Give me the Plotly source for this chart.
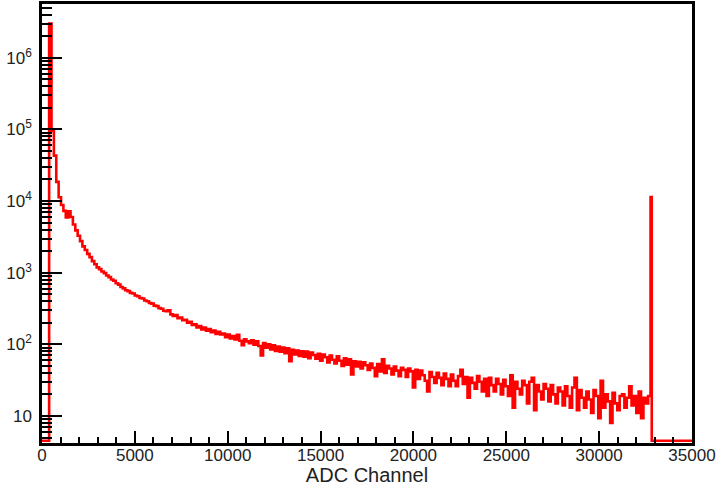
import plotly.graph_objects as go

# ---- data -------------------------------------------------------------
bin_width = 128          # ADC channels per bin
n_bins = 256             # 0 .. 32768
counts = [
    0, 0, 0, 3000000, 95000, 43000, 18500, 11300, 8800, 7300,
    5900, 7200, 6000, 4700, 3900, 3270, 2760, 2330, 2070, 1830,
    1650, 1450, 1310, 1185, 1120, 1040, 985, 912, 866, 805,
    770, 712, 682, 630, 604, 570, 553, 522, 512, 481,
    470, 444, 436, 410, 400, 378, 370, 347, 341, 320,
    314, 294, 290, 298, 262, 250, 256, 232, 236, 218,
    220, 200, 206, 186, 191, 172, 180, 162, 171, 155,
    163, 148, 156, 140, 150, 137, 141, 126, 137, 121,
    131, 117, 136, 112, 97, 118, 110, 104, 114, 99,
    110, 95, 70, 104, 90, 100, 85, 97, 81, 93,
    79, 90, 75, 88, 58, 84, 72, 82, 69, 80,
    67, 79, 64, 77, 71, 63, 74, 59, 72, 66,
    56, 70, 61, 54, 68, 59, 50, 64, 52, 62,
    38, 58, 49, 57, 46, 56, 51, 44, 54, 47,
    36, 53, 42, 62, 40, 50, 46, 38, 49, 43,
    36, 47, 44, 35, 46, 42, 25, 44, 33, 43,
    37, 31, 22, 41, 35, 29, 40, 34, 27, 39,
    33, 26, 38, 31, 26, 36, 44, 28, 35, 18,
    34, 29, 24, 36, 30, 22, 33, 19, 34, 27,
    22, 33, 28, 20, 32, 26, 19, 37, 13, 30,
    24, 20, 31, 27, 15, 30, 34, 12, 27, 22,
    17, 28, 24, 16, 27, 20, 15, 25, 22, 14,
    26, 19, 13, 25, 34, 12, 23, 18, 13, 22,
    17, 11, 23, 19, 9.3, 31, 13, 20, 16, 8,
    21, 15, 12, 19, 20, 13, 18, 26, 14, 19,
    11, 22, 9.3, 18, 15, 19,
]
overflow_count = 11400   # saturation bin at 32768
overflow_width = 64
x_max = 35000

x_tick_vals = [0, 5000, 10000, 15000, 20000, 25000, 30000, 35000]
x_tick_text = ["0", "5000", "10000", "15000", "20000", "25000", "30000", "35000"]
y_tick_vals = [10, 100, 1000, 10000, 100000, 1000000]
y_tick_text = ["10", "10<sup>2</sup>", "10<sup>3</sup>", "10<sup>4</sup>",
               "10<sup>5</sup>", "10<sup>6</sup>"]
x_title = "ADC Channel"

# ---- build step histogram ---------------------------------------------
edges = [i * bin_width for i in range(n_bins + 1)]
edges += [edges[-1] + overflow_width, x_max]
values = counts + [overflow_count, 0]

y_lo_log, y_hi_log = 0.623, 6.75
y_floor = 10 ** 0.655  # empty bins drawn on the axis floor (as ROOT does)
yplot = [v if v > 0 else y_floor for v in values]
xs = edges
ys = yplot + [yplot[-1]]

x_minor = [v for v in range(1000, 35000, 1000) if v % 5000 != 0]
y_minor = [m * 10 ** e for e in range(0, 7) for m in range(2, 10)]

fig = go.Figure()
fig.add_trace(go.Scatter(
    x=xs, y=ys, mode="lines", line=dict(color="#ff0000", width=2.6, shape="hv"),
    hoverinfo="skip", showlegend=False,
))

font_family = "Liberation Sans, Arial, sans-serif"
fig.update_layout(
    template="none",
    width=718, height=486,
    margin=dict(l=42, r=26, t=4, b=43, pad=0),
    paper_bgcolor="white", plot_bgcolor="white",
    font=dict(family=font_family, color="#222222", size=17),
    showlegend=False,
    xaxis=dict(
        range=[0, x_max], automargin=False,
        showline=True, linecolor="black", linewidth=2.5, mirror=True,
        showgrid=False, zeroline=False,
        ticks="inside", ticklen=12, tickwidth=1.5, tickcolor="black",
        tickmode="array", tickvals=x_tick_vals, ticktext=x_tick_text,
        tickfont=dict(size=17, color="#222222"),
        ticklabelstandoff=-5,
        minor=dict(tickmode="array", tickvals=x_minor, ticks="inside",
                   ticklen=6, tickwidth=1.5, tickcolor="black", showgrid=False),
        title=dict(text=x_title, font=dict(size=20, color="#222222"), standoff=4),
    ),
    yaxis=dict(
        type="log", range=[y_lo_log, y_hi_log], automargin=False,
        showline=True, linecolor="black", linewidth=2.5, mirror=True,
        showgrid=False, zeroline=False,
        ticks="inside", ticklen=20, tickwidth=1.5, tickcolor="black",
        tickmode="array", tickvals=y_tick_vals, ticktext=y_tick_text,
        tickfont=dict(size=17, color="#222222"),
        ticklabelstandoff=4,
        minor=dict(tickmode="array", tickvals=y_minor, ticks="inside",
                   ticklen=10, tickwidth=1.5, tickcolor="black", showgrid=False),
    ),
)

fig.write_html("out.html")
